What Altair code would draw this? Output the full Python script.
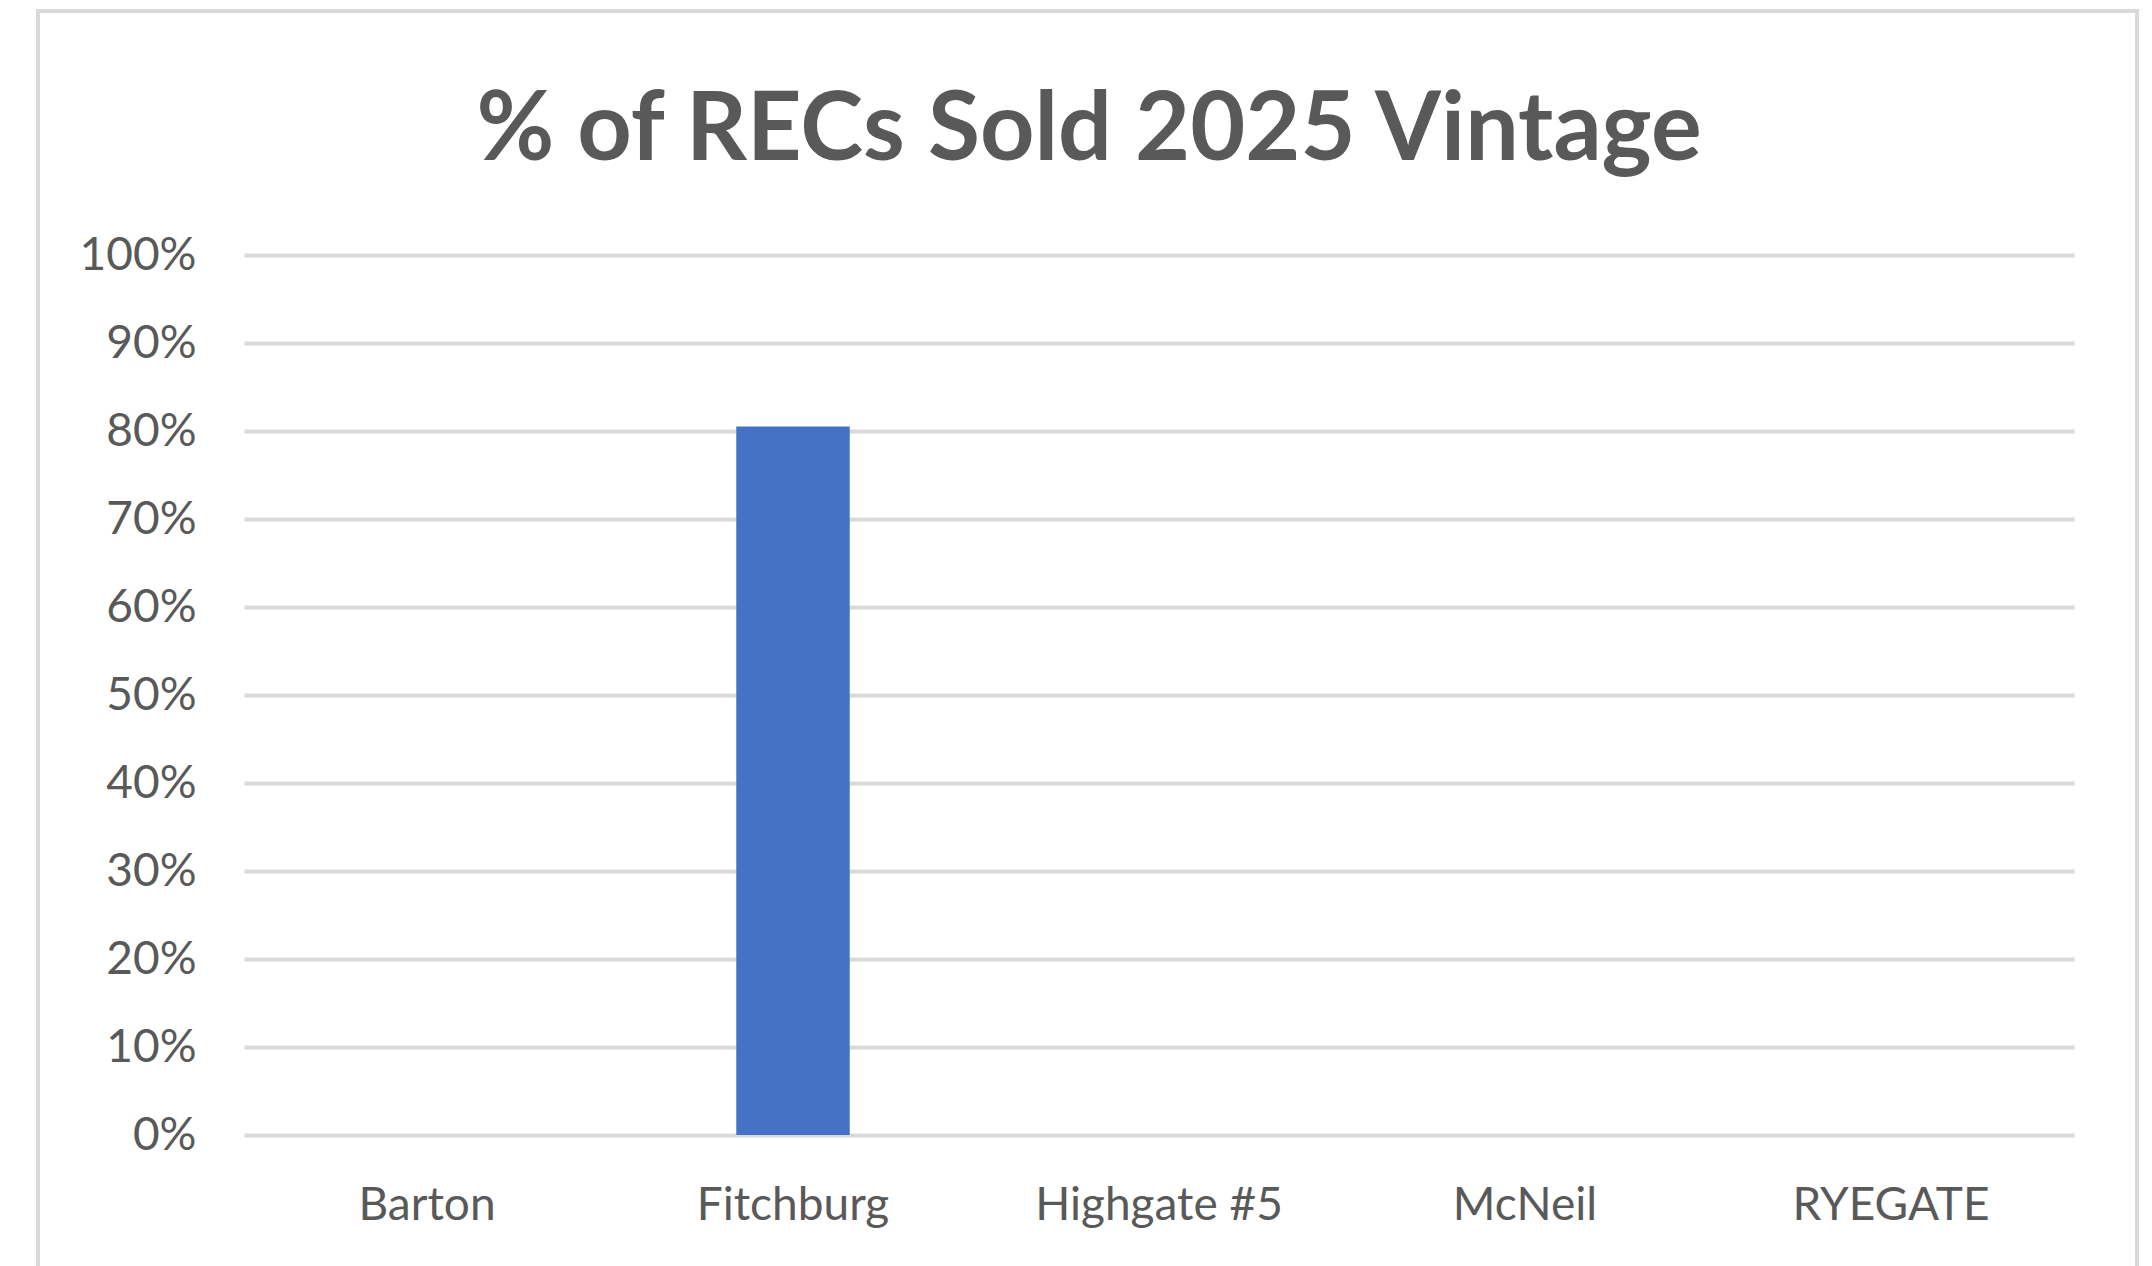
import altair as alt
import pandas as pd

# Share of 2025-vintage RECs sold, by generating plant
plants = ["Barton", "Fitchburg", "Highgate #5", "McNeil", "RYEGATE"]
pct_sold = [0.0, 0.805, 0.0, 0.0, 0.0]
y_ticks = [0.0, 0.1, 0.2, 0.3, 0.4, 0.5, 0.6, 0.7, 0.8, 0.9, 1.0]

df = pd.DataFrame({"plant": plants, "pct": pct_sold})

TEXT = "#595959"
GRID = "#d9d9d9"
FONT = "Lato"

bars = alt.Chart(df).mark_bar(color="#4472C4", width={"band": 0.31}).encode(
    x=alt.X(
        "plant:N",
        sort=plants,
        title=None,
        scale=alt.Scale(paddingInner=0, paddingOuter=0),
        axis=alt.Axis(
            labelAngle=0,
            labelFont=FONT,
            labelFontSize=46,
            labelColor=TEXT,
            labelPadding=48,
            labelLimit=600,
            domain=False,
            ticks=False,
            grid=False,
        ),
    ),
    y=alt.Y(
        "pct:Q",
        title=None,
        scale=alt.Scale(domain=[0, 1], nice=False, zero=True),
        axis=alt.Axis(
            values=y_ticks,
            format=".0%",
            labelFont=FONT,
            labelFontSize=46,
            labelColor=TEXT,
            labelPadding=48,
            domain=False,
            ticks=False,
            grid=True,
            gridColor=GRID,
            gridWidth=4,
        ),
    ),
)

# light outer frame around the chart
frame = alt.Chart(pd.DataFrame({"k": [0]})).mark_rect(
    filled=False, stroke=GRID, strokeWidth=4
).encode(
    x=alt.value(-206),
    x2=alt.value(1893),
    y=alt.value(-244),
    y2=alt.value(1200),
)

chart = (
    alt.layer(frame, bars)
    .properties(
        width=1830,
        height=880,
        title=alt.TitleParams(
            "% of RECs Sold 2025 Vintage",
            font=FONT,
            fontSize=95,
            fontWeight="bold",
            color=TEXT,
            anchor="middle",
            dx=-70,
            offset=-171,
        ),
        autosize=alt.AutoSizeParams(type="none"),
        padding={"left": 244, "top": 255, "right": 78, "bottom": 131},
        background="white",
    )
    .configure_view(stroke=None)
)

chart.save("out.html", embed_options={"renderer": "svg", "actions": False})
